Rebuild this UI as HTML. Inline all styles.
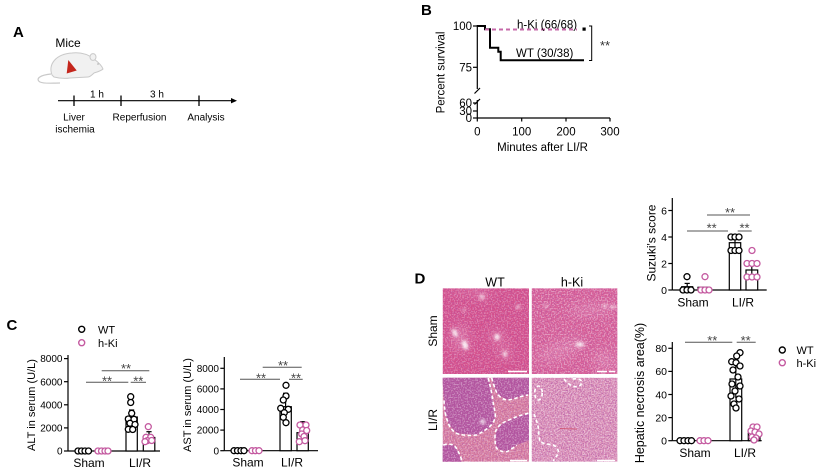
<!DOCTYPE html>
<html><head><meta charset="utf-8"><style>
html,body{margin:0;padding:0;background:#fff}
svg{display:block}
text{font-family:"Liberation Sans",Arial,sans-serif}
</style></head><body>
<svg width="824" height="471" viewBox="0 0 824 471" xmlns="http://www.w3.org/2000/svg">
<defs>
<filter id="bl" x="-50%" y="-50%" width="200%" height="200%"><feGaussianBlur stdDeviation="1.6"/></filter>
<filter id="bl2" x="-50%" y="-50%" width="200%" height="200%"><feGaussianBlur stdDeviation="5"/></filter>
<filter id="sd" x="0" y="0" width="1" height="1" filterUnits="objectBoundingBox"><feTurbulence type="fractalNoise" baseFrequency="0.85" numOctaves="1" seed="4"/><feColorMatrix type="matrix" values="0 0 0 0 0.42  0 0 0 0 0.08  0 0 0 0 0.38  5 0 0 0 -2.3"/></filter>
<filter id="sl" x="0" y="0" width="1" height="1" filterUnits="objectBoundingBox"><feTurbulence type="fractalNoise" baseFrequency="0.7" numOctaves="1" seed="9"/><feColorMatrix type="matrix" values="0 0 0 0 1  0 0 0 0 0.92  0 0 0 0 0.96  0 5 0 0 -2.3"/></filter>
<clipPath id="c1"><rect x="442.7" y="288.3" width="86.3" height="85.7"/></clipPath>
<clipPath id="c2"><rect x="531.7" y="288.3" width="85.7" height="85.7"/></clipPath>
<clipPath id="c3"><rect x="442.7" y="377.7" width="86.3" height="84"/></clipPath>
<clipPath id="c4"><rect x="531.7" y="377.7" width="85.7" height="84"/></clipPath>
</defs>

<!-- ============ PANEL A ============ -->
<text x="13" y="37" font-size="15" font-weight="bold">A</text>
<text x="68" y="47" font-size="12" text-anchor="middle">Mice</text>
<path d="M51,74 C40,75 35,79 40,82 C44,84 52,83 60,83" fill="none" stroke="#c9c9c9" stroke-width="1.2"/>
<path d="M52,75 C48,64 56,54 72,53 C82,52 89,55 94,59 C98,62 102,66 103,69 C101,71 97,72 94,73 C92,75 90,77 88,77 L70,78 C64,79 58,78 54,77 Z" fill="#f1f1f1" stroke="#c9c9c9" stroke-width="1"/>
<ellipse cx="93" cy="57" rx="3" ry="3.4" fill="#f1f1f1" stroke="#c9c9c9" stroke-width="1"/>
<circle cx="98" cy="64" r="0.8" fill="#b0b0b0"/>
<polygon points="68.3,60 76.7,70.5 66.7,73.5" fill="#c4261c"/>
<line x1="58" y1="100.7" x2="233" y2="100.7" stroke="#000" stroke-width="1.2"/>
<polygon points="237,100.7 231,98 231,103.4" fill="#000"/>
<line x1="74" y1="95.5" x2="74" y2="106" stroke="#000" stroke-width="1.3"/>
<line x1="121" y1="95.5" x2="121" y2="106" stroke="#000" stroke-width="1.3"/>
<line x1="199" y1="95.5" x2="199" y2="106" stroke="#000" stroke-width="1.3"/>
<text x="97" y="97.5" font-size="10" text-anchor="middle">1 h</text>
<text x="157" y="97.5" font-size="10" text-anchor="middle">3 h</text>
<text x="74" y="120.5" font-size="10" text-anchor="middle">Liver</text>
<text x="75" y="132.5" font-size="10" text-anchor="middle">ischemia</text>
<text x="139.5" y="120.5" font-size="10" text-anchor="middle">Reperfusion</text>
<text x="206" y="120.5" font-size="10" text-anchor="middle">Analysis</text>

<!-- ============ PANEL B ============ -->
<text x="421" y="15" font-size="15" font-weight="bold">B</text>
<text x="0" y="0" font-size="11.5" text-anchor="middle" dominant-baseline="central" transform="translate(441.5,72.5) rotate(-90)">Percent survival</text>
<g stroke="#000" stroke-width="1.2" fill="none">
<line x1="477.3" y1="25" x2="477.3" y2="89"/>
<line x1="477.3" y1="100" x2="477.3" y2="118"/>
<line x1="474.5" y1="93.5" x2="480" y2="88"/>
<line x1="474.5" y1="104.5" x2="480" y2="99"/>
<line x1="473" y1="26" x2="477.3" y2="26"/>
<line x1="473" y1="67.3" x2="477.3" y2="67.3"/>
<line x1="473" y1="103" x2="477.3" y2="103"/>
<line x1="473" y1="111" x2="477.3" y2="111"/>
<line x1="473" y1="118" x2="477.3" y2="118"/>
<line x1="477.3" y1="118" x2="610" y2="118"/>
<line x1="477.3" y1="118" x2="477.3" y2="121.5"/>
<line x1="521.7" y1="118" x2="521.7" y2="121.5"/>
<line x1="566" y1="118" x2="566" y2="121.5"/>
<line x1="610" y1="118" x2="610" y2="121.5"/>
</g>
<g font-size="11.5" text-anchor="end">
<text x="472" y="30">100</text>
<text x="472" y="71.3">75</text>
<text x="472" y="107">60</text>
<text x="472" y="115">30</text>
<text x="472" y="122">0</text>
</g>
<g font-size="11.5" text-anchor="middle">
<text x="477.3" y="135.5">0</text>
<text x="521.7" y="135.5">100</text>
<text x="566" y="135.5">200</text>
<text x="610" y="135.5">300</text>
<text x="542.5" y="151">Minutes after LI/R</text>
</g>
<path d="M477.3,26 H485 V29.3 H490 V47.7 H498.3 V51.7 H500.7 V60.3 H584" fill="none" stroke="#000" stroke-width="2"/>
<line x1="485" y1="29.5" x2="577" y2="29.5" stroke="#c668a8" stroke-width="2" stroke-dasharray="4,3"/>
<rect x="582.5" y="27.5" width="3.2" height="3.2" fill="#000"/>
<path d="M589,26 H591.7 V60.5 H589" fill="none" stroke="#000" stroke-width="1"/>
<text x="605" y="50" font-size="13" text-anchor="middle" fill="#333">**</text>
<text x="517" y="28.5" font-size="11.5">h-Ki (66/68)</text>
<text x="516" y="57" font-size="11.5">WT (30/38)</text>

<!-- ============ PANEL C ============ -->
<text x="6.5" y="330" font-size="15" font-weight="bold">C</text>
<circle cx="81.7" cy="329.3" r="3" fill="none" stroke="#000" stroke-width="1.4"/>
<text x="98" y="333.5" font-size="11">WT</text>
<circle cx="81.7" cy="342.7" r="3" fill="none" stroke="#c45aa0" stroke-width="1.4"/>
<text x="98" y="347" font-size="11">h-Ki</text>

<!-- ALT -->
<text x="0" y="0" font-size="11" text-anchor="middle" dominant-baseline="central" transform="translate(32,405) rotate(-90)">ALT in serum (U/L)</text>
<g stroke="#000" stroke-width="1.2">
<line x1="68" y1="355" x2="68" y2="451"/>
<line x1="68" y1="451" x2="160" y2="451"/>
<line x1="64" y1="358.6" x2="68" y2="358.6"/>
<line x1="64" y1="381.7" x2="68" y2="381.7"/>
<line x1="64" y1="404.8" x2="68" y2="404.8"/>
<line x1="64" y1="427.9" x2="68" y2="427.9"/>
<line x1="64" y1="451" x2="68" y2="451"/>
</g>
<g font-size="10" text-anchor="end">
<text x="62.5" y="362.2">8000</text>
<text x="62.5" y="385.3">6000</text>
<text x="62.5" y="408.4">4000</text>
<text x="62.5" y="431.5">2000</text>
<text x="62.5" y="454.6">0</text>
</g>
<g font-size="12" text-anchor="middle">
<text x="89" y="467">Sham</text>
<text x="140" y="467">LI/R</text>
</g>
<g fill="#fff" stroke="#000" stroke-width="1.2">
<rect x="126" y="417" width="11.3" height="34"/>
<rect x="143.3" y="437.5" width="11.5" height="13.5"/>
</g>
<g stroke="#000" stroke-width="1.2">
<line x1="131.6" y1="410" x2="131.6" y2="424"/><line x1="129" y1="410" x2="134.2" y2="410"/>
<line x1="149" y1="431.7" x2="149" y2="443"/><line x1="146.4" y1="431.7" x2="151.6" y2="431.7"/>
</g>
<g fill="#fff" stroke="#000" stroke-width="1.3">
<circle cx="78" cy="451" r="3"/><circle cx="81.5" cy="451" r="3"/><circle cx="85" cy="451" r="3"/><circle cx="88.5" cy="451" r="3"/>
<circle cx="130.7" cy="396.7" r="3"/><circle cx="130.7" cy="402.5" r="3"/><circle cx="131.7" cy="413.3" r="3"/>
<circle cx="128.3" cy="419" r="3"/><circle cx="134" cy="419.3" r="3"/><circle cx="130" cy="423.3" r="3"/>
<circle cx="135" cy="424.5" r="3"/><circle cx="128.3" cy="429.3" r="3"/><circle cx="132.7" cy="429.5" r="3"/>
</g>
<g fill="#fff" stroke="#c45aa0" stroke-width="1.3">
<circle cx="98" cy="451" r="3"/><circle cx="101.5" cy="451" r="3"/><circle cx="105" cy="451" r="3"/><circle cx="108" cy="451" r="3"/>
<circle cx="148.3" cy="426.7" r="3"/><circle cx="146" cy="437.3" r="3"/><circle cx="150.7" cy="437.3" r="3"/>
<circle cx="147.3" cy="440.7" r="3"/><circle cx="151.7" cy="440.5" r="3"/><circle cx="145" cy="441.7" r="3"/>
</g>
<g stroke="#555" stroke-width="1">
<line x1="101.7" y1="370.7" x2="149.3" y2="370.7"/>
<line x1="86" y1="382.3" x2="128.3" y2="382.3"/>
<line x1="130.7" y1="382.3" x2="146" y2="382.3"/>
</g>
<g font-size="13" text-anchor="middle" fill="#444">
<text x="126" y="373">**</text>
<text x="107" y="385.5">**</text>
<text x="138.3" y="385.5">**</text>
</g>

<!-- AST -->
<text x="0" y="0" font-size="11" text-anchor="middle" dominant-baseline="central" transform="translate(188,405) rotate(-90)">AST in serum (U/L)</text>
<g stroke="#000" stroke-width="1.2">
<line x1="224.3" y1="357" x2="224.3" y2="450.7"/>
<line x1="224.3" y1="450.7" x2="318" y2="450.7"/>
<line x1="220.3" y1="368.3" x2="224.3" y2="368.3"/>
<line x1="220.3" y1="388.9" x2="224.3" y2="388.9"/>
<line x1="220.3" y1="409.5" x2="224.3" y2="409.5"/>
<line x1="220.3" y1="430.1" x2="224.3" y2="430.1"/>
<line x1="220.3" y1="450.7" x2="224.3" y2="450.7"/>
</g>
<g font-size="10" text-anchor="end">
<text x="219" y="371.9">8000</text>
<text x="219" y="392.5">6000</text>
<text x="219" y="413.1">4000</text>
<text x="219" y="433.7">2000</text>
<text x="219" y="454.3">0</text>
</g>
<g font-size="12" text-anchor="middle">
<text x="248" y="466.5">Sham</text>
<text x="292" y="466.5">LI/R</text>
</g>
<g fill="#fff" stroke="#000" stroke-width="1.2">
<rect x="280" y="406.7" width="11.3" height="44"/>
<rect x="297" y="432.7" width="11.3" height="18"/>
</g>
<g stroke="#000" stroke-width="1.2">
<line x1="285.6" y1="393.3" x2="285.6" y2="420"/><line x1="283" y1="393.3" x2="288.2" y2="393.3"/>
<line x1="302.6" y1="421.7" x2="302.6" y2="443"/><line x1="300" y1="421.7" x2="305.2" y2="421.7"/>
</g>
<g fill="#fff" stroke="#000" stroke-width="1.3">
<circle cx="234" cy="450.7" r="3"/><circle cx="237.5" cy="450.7" r="3"/><circle cx="241" cy="450.7" r="3"/><circle cx="244" cy="450.7" r="3"/>
<circle cx="286" cy="385.3" r="3"/><circle cx="286" cy="396" r="3"/><circle cx="283.3" cy="400" r="3"/>
<circle cx="280.7" cy="408.3" r="3"/><circle cx="288.3" cy="409.3" r="3"/><circle cx="284.3" cy="412.7" r="3"/>
<circle cx="283.3" cy="417.3" r="3"/><circle cx="286" cy="422.7" r="3"/>
</g>
<g fill="#fff" stroke="#c45aa0" stroke-width="1.3">
<circle cx="252" cy="450.7" r="3"/><circle cx="255.5" cy="450.7" r="3"/><circle cx="259" cy="450.7" r="3"/>
<circle cx="300" cy="425" r="3"/><circle cx="306" cy="425" r="3"/><circle cx="302.7" cy="430" r="3"/>
<circle cx="306.7" cy="430.5" r="3"/><circle cx="301.7" cy="434" r="3"/><circle cx="304" cy="436.5" r="3"/>
<circle cx="299.3" cy="441.7" r="3"/><circle cx="305" cy="440.7" r="3"/>
</g>
<g stroke="#555" stroke-width="1">
<line x1="262.7" y1="367.3" x2="301.7" y2="367.3"/>
<line x1="240" y1="379.3" x2="280" y2="379.3"/>
<line x1="289" y1="379.3" x2="302.7" y2="379.3"/>
</g>
<g font-size="13" text-anchor="middle" fill="#444">
<text x="283" y="370">**</text>
<text x="261" y="382.3">**</text>
<text x="296" y="382.3">**</text>
</g>

<!-- ============ PANEL D ============ -->
<text x="414.5" y="283.5" font-size="15" font-weight="bold">D</text>
<text x="495" y="286.5" font-size="12.5" text-anchor="middle">WT</text>
<text x="572" y="286.5" font-size="12.5" text-anchor="middle">h-Ki</text>
<text x="0" y="0" font-size="12" text-anchor="middle" dominant-baseline="central" transform="translate(433,331) rotate(-90)">Sham</text>
<text x="0" y="0" font-size="12" text-anchor="middle" dominant-baseline="central" transform="translate(433,420) rotate(-90)">LI/R</text>

<!-- WT Sham -->
<g clip-path="url(#c1)">
<rect x="442.7" y="288.3" width="86.3" height="85.7" fill="#d6508b"/>
<g fill="#f3c4dc" opacity="0.28" filter="url(#bl2)">
<ellipse cx="460" cy="338" rx="10" ry="14"/><ellipse cx="497" cy="337" rx="8" ry="7"/><ellipse cx="505" cy="352" rx="7" ry="7"/>
<ellipse cx="482" cy="296" rx="7" ry="4"/><ellipse cx="470" cy="291" rx="22" ry="3"/>
</g>
<rect x="442.7" y="288.3" width="86.3" height="85.7" filter="url(#sd)" opacity="0.45"/>
<rect x="442.7" y="288.3" width="86.3" height="85.7" filter="url(#sl)" opacity="0.3"/>
<g fill="#fff" filter="url(#bl)">
<ellipse cx="455" cy="333" rx="2" ry="4.5" transform="rotate(-30 455 333)"/>
<ellipse cx="465" cy="345" rx="2.5" ry="5" transform="rotate(-20 465 345)"/>
<ellipse cx="497" cy="337" rx="2.5" ry="3"/>
<ellipse cx="505" cy="354" rx="1.8" ry="2.6"/>
<ellipse cx="482" cy="297" rx="1.8" ry="2.2"/>
<ellipse cx="518" cy="307" rx="2.2" ry="1.3"/>
<ellipse cx="464" cy="310" rx="1.3" ry="1.3"/>
</g>
<line x1="508" y1="371.5" x2="527" y2="371.5" stroke="#fff" stroke-width="1.6"/>
</g>

<!-- h-Ki Sham -->
<g clip-path="url(#c2)">
<rect x="531.7" y="288.3" width="85.7" height="85.7" fill="#d95f96"/>
<g fill="#f0bcd6" opacity="0.3" filter="url(#bl2)">
<ellipse cx="560" cy="350" rx="25" ry="9" transform="rotate(-20 560 350)"/>
<ellipse cx="590" cy="310" rx="22" ry="6"/>
<ellipse cx="605" cy="360" rx="12" ry="10"/>
</g>
<rect x="531.7" y="288.3" width="85.7" height="85.7" filter="url(#sd)" opacity="0.5"/>
<rect x="531.7" y="288.3" width="85.7" height="85.7" filter="url(#sl)" opacity="0.4"/>
<g fill="#fff" filter="url(#bl)">
<ellipse cx="580" cy="344.5" rx="4.5" ry="2"/>
<ellipse cx="605" cy="306" rx="2.2" ry="1.2"/>
<ellipse cx="613" cy="307" rx="2.6" ry="1.3"/>
<ellipse cx="546" cy="306" rx="1.3" ry="1.3"/>
</g>
<line x1="597" y1="371.5" x2="607" y2="371.5" stroke="#fff" stroke-width="1.6"/>
<line x1="609" y1="371.5" x2="615" y2="371.5" stroke="#fff" stroke-width="1.6"/>
</g>

<!-- WT LI/R -->
<g clip-path="url(#c3)">
<rect x="442.7" y="377.7" width="86.3" height="84" fill="#d97f9f"/>
<g fill="#b3569e">
<path d="M442,377 L488.3,377 L490,386 L492.7,400 L495,418.3 L490,428.3 L476.7,435 L456.7,433.3 L448.3,423.3 L445,411.7 L444,398.3 Z"/>
<path d="M493,377 L530,377 L530,394 L526.7,395 L508.3,400 L498.3,395 L491.7,380 Z"/>
<path d="M530,412 L528.3,413.3 L513.3,418.3 L500,425 L495,435 L496.7,448.3 L506.7,451.7 L516.7,445 L530,440 Z"/>
<path d="M442,445 L453.3,445 L458.3,451.7 L461.7,462 L442,462 Z"/>
</g>
<rect x="442.7" y="377.7" width="86.3" height="84" filter="url(#sd)" opacity="0.55"/>
<rect x="442.7" y="377.7" width="86.3" height="84" filter="url(#sl)" opacity="0.35"/>
<g fill="none" stroke="#fff" stroke-width="1.6" stroke-dasharray="3.5,2.5">
<path d="M488.3,378 C490,386 492,393 492.7,400 C494,408 496,414 495,418.3 C493,424 490,428 476.7,435 C468,436 460,435 456.7,433.3 C451,430 448,426 445,411.7 C444,405 444,400 444,398.3"/>
<path d="M491.7,378 C494,386 496,392 498.3,395 C502,399 505,400 508.3,400 C515,399 521,396 528,395"/>
<path d="M528.3,413.3 C522,415 517,416 513.3,418.3 C506,421 502,423 500,425 C497,428 495,431 495,435 C495,441 495,446 496.7,448.3 C499,451 503,452 506.7,451.7 C511,450 514,447 516.7,445"/>
<path d="M443.3,445 C447,444 451,444 453.3,445 C456,447 457,449 458.3,451.7 C459.5,454 461,457 461.7,461"/>
</g>
<ellipse cx="482.7" cy="421.7" rx="2.5" ry="2" fill="#fff" filter="url(#bl)"/>
<line x1="510" y1="460.5" x2="527" y2="460.5" stroke="#fff" stroke-width="1.6"/>
</g>

<!-- h-Ki LI/R -->
<g clip-path="url(#c4)">
<rect x="531.7" y="377.7" width="85.7" height="84" fill="#dd94b8"/>
<rect x="531.7" y="377.7" width="85.7" height="84" filter="url(#sd)" opacity="0.65"/>
<rect x="531.7" y="377.7" width="85.7" height="84" filter="url(#sl)" opacity="0.45"/>
<g fill="none" stroke="#fff" stroke-width="1.6" stroke-dasharray="3.5,2.5">
<path d="M564,379 C567,383 571,386 575,386.7 C579,387 582,385 581.7,381.7 C581,379 577,378.5 572,379"/>
<ellipse cx="538.5" cy="393" rx="3.8" ry="7"/>
<path d="M534,414 C536,419 538,424 538.3,428.3 C539,434 539,439 540,441.7 C543,444 549,444 553.3,445 C557,447 559,450 558.3,453.3 C557,456 555,458 553.3,461"/>
</g>
<line x1="560" y1="428.5" x2="577" y2="429" stroke="#d0506a" stroke-width="1" opacity="0.8"/>
<line x1="597" y1="460.5" x2="615" y2="460.5" stroke="#fff" stroke-width="1.6"/>
</g>

<!-- Suzuki -->
<text x="0" y="0" font-size="12" text-anchor="middle" dominant-baseline="central" transform="translate(651.7,243) rotate(-90)">Suzuki's  score</text>
<g stroke="#000" stroke-width="1.2">
<line x1="672.3" y1="198" x2="672.3" y2="290"/>
<line x1="672.3" y1="290" x2="766.7" y2="290"/>
<line x1="668.3" y1="210.5" x2="672.3" y2="210.5"/>
<line x1="668.3" y1="237" x2="672.3" y2="237"/>
<line x1="668.3" y1="263.5" x2="672.3" y2="263.5"/>
<line x1="668.3" y1="290" x2="672.3" y2="290"/>
</g>
<g font-size="10.5" text-anchor="end">
<text x="667" y="214.3">6</text>
<text x="667" y="240.8">4</text>
<text x="667" y="267.3">2</text>
<text x="667" y="293.8">0</text>
</g>
<g font-size="12" text-anchor="middle">
<text x="693" y="306.5">Sham</text>
<text x="743" y="306.5">LI/R</text>
</g>
<g fill="#fff" stroke="#000" stroke-width="1.2">
<rect x="681.7" y="286.7" width="11" height="3.3"/>
<rect x="698" y="287.3" width="11" height="2.7"/>
<rect x="729.3" y="242.7" width="11.4" height="47.3"/>
<rect x="746" y="270" width="11.7" height="20"/>
</g>
<g stroke="#000" stroke-width="1.2">
<line x1="687.2" y1="283.4" x2="687.2" y2="290"/><line x1="684.6" y1="283.4" x2="689.8" y2="283.4"/>
<line x1="735" y1="237" x2="735" y2="248"/><line x1="732.4" y1="237" x2="737.6" y2="237"/>
<line x1="751.8" y1="263.5" x2="751.8" y2="277"/><line x1="749.2" y1="263.5" x2="754.4" y2="263.5"/>
</g>
<g fill="#fff" stroke="#000" stroke-width="1.3">
<circle cx="687" cy="276.7" r="3"/><circle cx="683" cy="290" r="3"/><circle cx="687" cy="290" r="3"/><circle cx="691" cy="290" r="3"/>
<circle cx="731" cy="237" r="3"/><circle cx="735" cy="237" r="3"/><circle cx="739" cy="237" r="3"/>
<circle cx="731" cy="250.5" r="3"/><circle cx="735" cy="250.5" r="3"/><circle cx="739" cy="250.5" r="3"/>
</g>
<g fill="#fff" stroke="#c45aa0" stroke-width="1.3">
<circle cx="705" cy="276.7" r="3"/><circle cx="701" cy="290" r="3"/><circle cx="705" cy="290" r="3"/><circle cx="709" cy="290" r="3"/>
<circle cx="752" cy="250.5" r="3"/>
<circle cx="747" cy="263.5" r="3"/><circle cx="752" cy="263.5" r="3"/><circle cx="757" cy="263.5" r="3"/>
<circle cx="747" cy="277" r="3"/><circle cx="752" cy="277" r="3"/><circle cx="757" cy="277" r="3"/>
</g>
<g stroke="#555" stroke-width="1">
<line x1="707" y1="215" x2="750" y2="215"/>
<line x1="687" y1="231" x2="728" y2="231"/>
<line x1="737.7" y1="231" x2="751.7" y2="231"/>
</g>
<g font-size="13" text-anchor="middle" fill="#444">
<text x="730" y="217">**</text>
<text x="711.7" y="232.7">**</text>
<text x="744.5" y="232.7">**</text>
</g>

<!-- Hepatic necrosis -->
<text x="0" y="0" font-size="12.5" text-anchor="middle" dominant-baseline="central" transform="translate(640,393) rotate(-90)">Hepatic necrosis area(%)</text>
<g stroke="#000" stroke-width="1.2">
<line x1="672.3" y1="342" x2="672.3" y2="440.7"/>
<line x1="672.3" y1="440.7" x2="761.7" y2="440.7"/>
<line x1="668.3" y1="348.3" x2="672.3" y2="348.3"/>
<line x1="668.3" y1="371.4" x2="672.3" y2="371.4"/>
<line x1="668.3" y1="394.5" x2="672.3" y2="394.5"/>
<line x1="668.3" y1="417.6" x2="672.3" y2="417.6"/>
<line x1="668.3" y1="440.7" x2="672.3" y2="440.7"/>
</g>
<g font-size="10.5" text-anchor="end">
<text x="667" y="352.1">80</text>
<text x="667" y="375.2">60</text>
<text x="667" y="398.3">40</text>
<text x="667" y="421.4">20</text>
<text x="667" y="444.5">0</text>
</g>
<g font-size="12" text-anchor="middle">
<text x="695" y="457">Sham</text>
<text x="745" y="457">LI/R</text>
</g>
<g fill="#fff" stroke="#000" stroke-width="1.2">
<rect x="730" y="379" width="11.7" height="61.7"/>
<rect x="748.3" y="433.3" width="11.7" height="7.4"/>
</g>
<g stroke="#000" stroke-width="1.2">
<line x1="735.8" y1="360" x2="735.8" y2="398"/><line x1="733.2" y1="360" x2="738.4" y2="360"/>
<line x1="754.2" y1="428.3" x2="754.2" y2="438.3"/><line x1="751.6" y1="428.3" x2="756.8" y2="428.3"/>
</g>
<g fill="#fff" stroke="#000" stroke-width="1.3">
<circle cx="680" cy="440.7" r="3"/><circle cx="684" cy="440.7" r="3"/><circle cx="688" cy="440.7" r="3"/><circle cx="691.5" cy="440.7" r="3"/>
<circle cx="740" cy="352.7" r="3"/><circle cx="736.7" cy="356" r="3"/><circle cx="731.7" cy="361.7" r="3"/>
<circle cx="736" cy="362.7" r="3"/><circle cx="740" cy="366" r="3"/><circle cx="733" cy="370" r="3"/>
<circle cx="738" cy="377" r="3"/><circle cx="732" cy="384" r="3"/><circle cx="740" cy="386" r="3"/>
<circle cx="735" cy="391" r="3"/><circle cx="731" cy="396" r="3"/><circle cx="739" cy="399" r="3"/>
<circle cx="734" cy="404" r="3"/><circle cx="736" cy="408" r="3"/>
</g>
<g fill="#fff" stroke="#c45aa0" stroke-width="1.3">
<circle cx="700" cy="440.7" r="3"/><circle cx="704" cy="440.7" r="3"/><circle cx="708" cy="440.7" r="3"/>
<circle cx="753" cy="427" r="3"/><circle cx="757" cy="427" r="3"/><circle cx="751" cy="431" r="3"/>
<circle cx="755" cy="432" r="3"/><circle cx="759" cy="434" r="3"/><circle cx="752" cy="437" r="3"/>
<circle cx="756" cy="438" r="3"/><circle cx="754" cy="440" r="3"/>
</g>
<g stroke="#555" stroke-width="1">
<line x1="685" y1="342.3" x2="732.3" y2="342.3"/>
<line x1="736.7" y1="342.3" x2="755.7" y2="342.3"/>
</g>
<g font-size="13" text-anchor="middle" fill="#444">
<text x="712.3" y="345">**</text>
<text x="745.7" y="345">**</text>
</g>
<circle cx="782.3" cy="350" r="3" fill="none" stroke="#000" stroke-width="1.4"/>
<text x="796.5" y="354" font-size="11">WT</text>
<circle cx="782.3" cy="362.7" r="3" fill="none" stroke="#c45aa0" stroke-width="1.4"/>
<text x="796.5" y="367" font-size="11">h-Ki</text>
</svg>
</body></html>
